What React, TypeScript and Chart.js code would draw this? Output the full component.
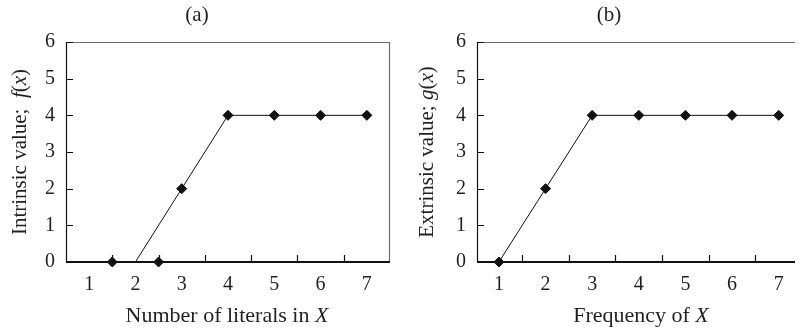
import React, { useEffect, useRef } from "react";
import { Chart, registerables } from "chart.js";

Chart.register(...registerables);

// ---------- data ----------
const xTickValues = [1, 2, 3, 4, 5, 6, 7];
const xTickMarks = [1.5, 2.5, 3.5, 4.5, 5.5, 6.5];
const yTickValues = [0, 1, 2, 3, 4, 5, 6];

// panel (a)
const aPointX = [1.5, 2.5, 3, 4, 5, 6, 7];
const aPointY = [0, 0, 2, 4, 4, 4, 4];
const aLineX = [2, 3, 4, 5, 6, 7];
const aLineY = [0, 2, 4, 4, 4, 4];

// panel (b)
const bX = [1, 2, 3, 4, 5, 6, 7];
const bY = [0, 2, 4, 4, 4, 4, 4];

const SERIF = "'Liberation Serif', 'DejaVu Serif', serif";
const TEXT = "#231f20";
const TITLE_SIZE = 21;
const XTITLE_SIZE = 22;
const TICK_SIZE = 20;

type Seg = { t: string; i?: boolean };

function drawRich(ctx: CanvasRenderingContext2D, segs: Seg[], size: number, cx: number, cy: number, rotate: boolean) {
  ctx.save();
  ctx.fillStyle = TEXT;
  ctx.textBaseline = "middle";
  ctx.textAlign = "left";
  const fontFor = (s: Seg) => `${s.i ? "italic " : ""}${size}px ${SERIF}`;
  let total = 0;
  for (const s of segs) {
    ctx.font = fontFor(s);
    total += ctx.measureText(s.t).width;
  }
  ctx.translate(cx, cy);
  if (rotate) ctx.rotate(-Math.PI / 2);
  let x = -total / 2;
  for (const s of segs) {
    ctx.font = fontFor(s);
    ctx.fillText(s.t, x, 0);
    x += ctx.measureText(s.t).width;
  }
  ctx.restore();
}

type PanelCfg = {
  title: string;
  titleX: number;
  xTitle: Seg[];
  xTitleX: number;
  yTitle: Seg[];
  yTitleX: number;
  yAxisWidth: number;
  rightPad: number;
  xMin: number;
  xMax: number;
  rightBorder: boolean;
  datasets: any[];
};

function makeFramePlugin(cfg: PanelCfg) {
  return {
    id: "frame",
    afterDatasetsDraw(chart: any) {
      const ctx: CanvasRenderingContext2D = chart.ctx;
      const { left, right, top, bottom } = chart.chartArea;
      const xs = chart.scales.x;
      const ys = chart.scales.y;
      ctx.save();
      // top border (grey)
      ctx.strokeStyle = "#6d6d6d";
      ctx.lineWidth = 1.2;
      ctx.beginPath();
      ctx.moveTo(left, top + 0.5);
      ctx.lineTo(right, top + 0.5);
      if (cfg.rightBorder) {
        ctx.moveTo(right - 0.5, top);
        ctx.lineTo(right - 0.5, bottom);
      }
      ctx.stroke();
      // left axis
      ctx.strokeStyle = "#111";
      ctx.lineWidth = 1.2;
      ctx.beginPath();
      ctx.moveTo(left + 0.5, top);
      ctx.lineTo(left + 0.5, bottom);
      // y tick marks inward
      for (const v of yTickValues) {
        const py = Math.round(ys.getPixelForValue(v)) + 0.5;
        ctx.moveTo(left, py);
        ctx.lineTo(left + 7, py);
      }
      // x tick marks inward
      for (const v of xTickMarks) {
        const px = Math.round(xs.getPixelForValue(v)) + 0.5;
        ctx.moveTo(px, bottom);
        ctx.lineTo(px, bottom - 7);
      }
      ctx.stroke();
      // bottom axis
      ctx.lineWidth = 2;
      ctx.beginPath();
      ctx.moveTo(left, bottom);
      ctx.lineTo(right, bottom);
      ctx.stroke();
      ctx.restore();
    },
    afterDraw(chart: any) {
      const ctx: CanvasRenderingContext2D = chart.ctx;
      const { top, bottom } = chart.chartArea;
      drawRich(ctx, [{ t: cfg.title }], TITLE_SIZE, cfg.titleX, 15, false);
      drawRich(ctx, cfg.xTitle, XTITLE_SIZE, cfg.xTitleX, 316, false);
      drawRich(ctx, cfg.yTitle, TITLE_SIZE, cfg.yTitleX, (top + bottom) / 2, true);
    },
  };
}

function Panel({ cfg, width, left }: { cfg: PanelCfg; width: number; left: number }) {
  const ref = useRef<HTMLCanvasElement | null>(null);
  useEffect(() => {
    if (!ref.current) return;
    const chart = new Chart(ref.current, {
      type: "scatter",
      data: { datasets: cfg.datasets },
      options: {
        responsive: false,
        animation: false,
        events: [],
        layout: { padding: { top: 42, right: cfg.rightPad, left: 0, bottom: 0 } },
        plugins: { legend: { display: false }, tooltip: { enabled: false }, title: { display: false } },
        scales: {
          x: {
            type: "linear",
            min: cfg.xMin,
            max: cfg.xMax,
            grid: { display: false, drawTicks: false },
            border: { display: false },
            afterBuildTicks: (s: any) => {
              s.ticks = xTickValues.map((v) => ({ value: v }));
            },
            afterFit: (s: any) => {
              s.height = 68;
            },
            ticks: {
              autoSkip: false,
              maxRotation: 0,
              padding: 11,
              color: TEXT,
              font: { family: SERIF, size: TICK_SIZE },
              callback: (v: any) => String(v),
            },
          },
          y: {
            type: "linear",
            min: 0,
            max: 6,
            grid: { display: false, drawTicks: false },
            border: { display: false },
            afterBuildTicks: (s: any) => {
              s.ticks = yTickValues.map((v) => ({ value: v }));
            },
            afterFit: (s: any) => {
              s.width = cfg.yAxisWidth;
            },
            ticks: {
              padding: 11,
              color: TEXT,
              font: { family: SERIF, size: TICK_SIZE },
              callback: (v: any) => String(v),
            },
          },
        },
      },
      plugins: [makeFramePlugin(cfg)],
    } as any);
    return () => chart.destroy();
  }, []);
  return (
    <canvas
      ref={ref}
      width={width}
      height={330}
      style={{ position: "absolute", left, top: 0, width, height: 330, display: "block" }}
    />
  );
}

const markerStyle = {
  pointStyle: "rectRot",
  pointRadius: 5,
  pointBackgroundColor: "#111",
  pointBorderColor: "#111",
  pointBorderWidth: 1,
};

const panelA: PanelCfg = {
  title: "(a)",
  titleX: 197,
  xTitle: [{ t: "Number of literals in " }, { t: "X", i: true }],
  xTitleX: 227,
  yTitle: [{ t: "Intrinsic value;  " }, { t: "f", i: true }, { t: "(" }, { t: "x", i: true }, { t: ")" }],
  yTitleX: 20,
  yAxisWidth: 66,
  rightPad: 10,
  xMin: 0.5,
  xMax: 7.5,
  rightBorder: true,
  datasets: [
    {
      data: aLineX.map((x, i) => ({ x, y: aLineY[i] })),
      showLine: true,
      borderColor: "#111",
      borderWidth: 1,
      pointRadius: 0,
      clip: false,
    },
    {
      data: aPointX.map((x, i) => ({ x, y: aPointY[i] })),
      showLine: false,
      clip: false,
      ...markerStyle,
    },
  ],
};

const panelB: PanelCfg = {
  title: "(b)",
  titleX: 209,
  xTitle: [{ t: "Frequency of " }, { t: "X", i: true }],
  xTitleX: 241,
  yTitle: [{ t: "Extrinsic value; " }, { t: "g", i: true }, { t: "(" }, { t: "x", i: true }, { t: ")" }],
  yTitleX: 27,
  yAxisWidth: 77,
  rightPad: 0,
  xMin: 0.53,
  xMax: 7.35,
  rightBorder: false,
  datasets: [
    {
      data: bX.map((x, i) => ({ x, y: bY[i] })),
      showLine: true,
      borderColor: "#111",
      borderWidth: 1,
      clip: false,
      ...markerStyle,
    },
  ],
};

export default function App() {
  return (
    <div style={{ position: "absolute", left: 0, top: 0, width: 801, height: 330, background: "#fff", overflow: "hidden" }}>
      <Panel cfg={panelA} width={400} left={0} />
      <Panel cfg={panelB} width={401} left={400} />
    </div>
  );
}
